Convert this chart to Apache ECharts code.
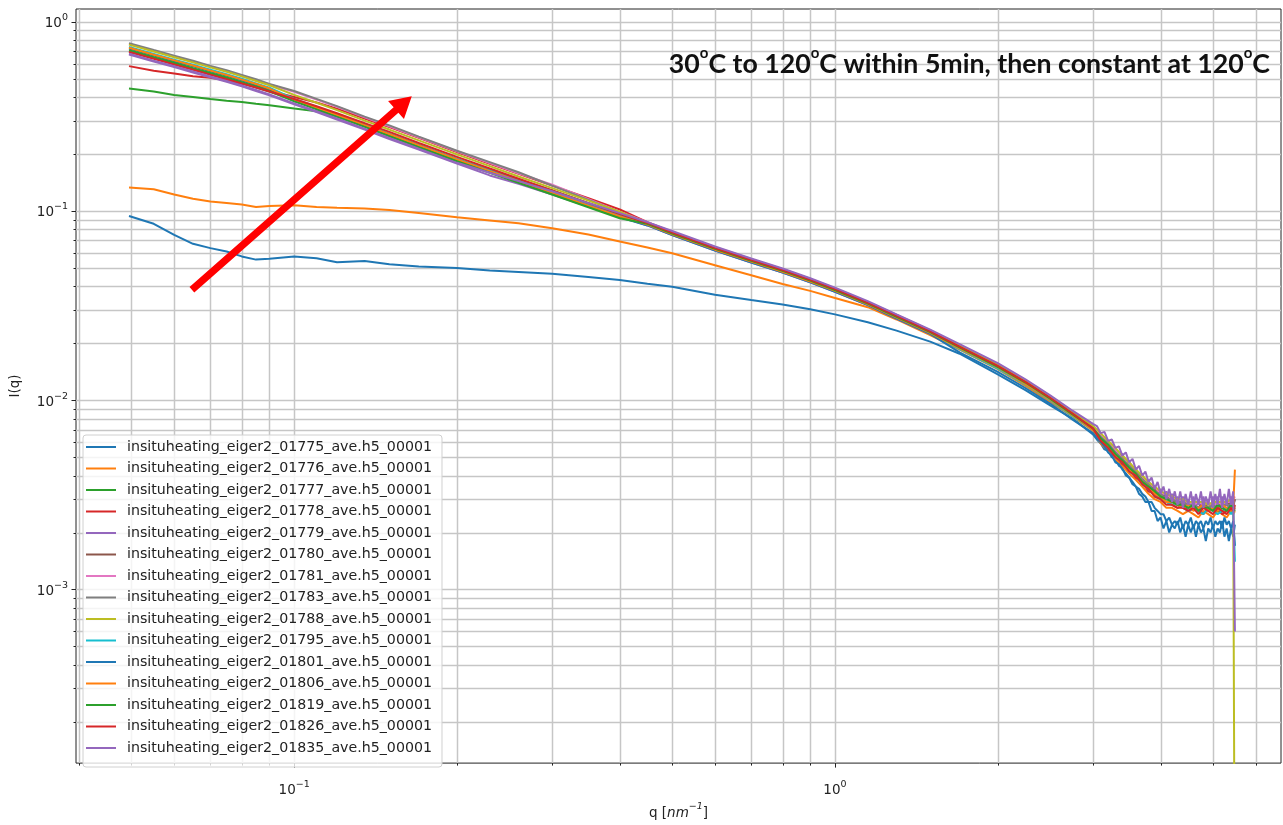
<!DOCTYPE html>
<html>
<head>
<meta charset="utf-8">
<script src="https://cdn.jsdelivr.net/npm/echarts@6/dist/echarts.min.js"></script>
<style>
html,body{margin:0;padding:0;background:#fff;}
#chart{width:1283px;height:825px;}
</style>
</head>
<body>
<div id="chart"></div>
<script>
// ---------------- data ----------------
// q grid used by most curves
const Q = [0.0495,0.055,0.06,0.065,0.07,0.075,0.08,0.085,0.09,0.1,
  0.11,0.12,0.135,0.15,0.17,0.2,0.23,0.26,0.3,0.35,
  0.4,0.45,0.5,0.6,0.7,0.8,0.9,1.0,1.15,1.3,
  1.5,1.7,2.0,2.25,2.5,2.75,3.0,3.1,3.2,3.3,
  3.4,3.5,3.6,3.7,3.8,3.9,4.0,4.1,4.2,4.3,
  4.4,4.5,4.6,4.7,4.8,4.9,5.0,5.1,5.2,5.3,
  5.4,5.45,5.49];
// denser q grid at high q for the noisiest curves
const Q_DENSE = [0.0495,0.055,0.06,0.065,0.07,0.075,0.08,0.085,0.09,0.1,
  0.11,0.12,0.135,0.15,0.17,0.2,0.23,0.26,0.3,0.35,
  0.4,0.45,0.5,0.6,0.7,0.8,0.9,1.0,1.15,1.3,
  1.5,1.7,2.0,2.25,2.5,2.75,3.0,
  3.05,3.1,3.15,3.2,3.25,3.3,3.35,3.4,3.45,3.5,
  3.55,3.6,3.65,3.7,3.75,3.8,3.85,3.9,3.95,4.0,
  4.05,4.1,4.15,4.2,4.25,4.3,4.35,4.4,4.45,4.5,
  4.55,4.6,4.65,4.7,4.75,4.8,4.85,4.9,4.95,5.0,
  5.05,5.1,5.15,5.2,5.25,5.3,5.35,5.4,5.45,
  5.49];

const S01775 = [0.094,0.0855,0.0747,0.067,0.0636,0.061,0.0575,0.0553,0.0558,0.0575,
  0.0562,0.0535,0.0543,0.0522,0.0508,0.0499,0.0485,0.0476,0.0465,0.0448,
  0.0432,0.0412,0.0398,0.0361,0.0338,0.0320,0.0302,0.0284,0.0258,0.0233,
  0.0204,0.0176,0.0137,0.0113,0.0094,0.0080,0.0066,
  0.0062,0.0059,0.0055,0.0054,0.0050,0.0049,0.0045,0.0044,0.0040,0.0039,
  0.0036,0.0035,0.0032,0.0031,0.0029,0.0029,0.0026,0.0026,0.0023,0.0024,
  0.0021,0.0023,0.0020,0.0022,0.0021,0.0023,0.0020,0.0022,0.0019,0.0022,
  0.0020,0.0022,0.0019,0.0022,0.0020,0.0021,0.0018,0.0021,0.0020,0.0022,
  0.0019,0.0021,0.0020,0.0023,0.0019,0.0021,0.0018,0.0021,0.0019,
  0.0022];
const S01776 = [0.133,0.130,0.122,0.116,0.112,0.110,0.108,0.105,0.106,0.107,
  0.105,0.104,0.103,0.101,0.0975,0.0925,0.089,0.086,0.081,0.075,
  0.069,0.064,0.0598,0.0516,0.0457,0.0411,0.0378,0.0347,0.0310,0.0267,
  0.0221,0.0185,0.0146,0.0119,0.0098,0.0082,0.0069,
  0.0059,0.0054,0.0049,0.0045,0.0041,0.0038,0.0035,0.0032,0.0030,0.0029,0.0027,0.0027,0.0026,0.0025,0.0026,0.0025,0.0024,0.0026,0.0025,0.0024,0.0026,0.0025,0.0024,0.0026,0.0025,
  0.0026];
const S01777 = [0.443,0.427,0.410,0.400,0.390,0.382,0.376,0.368,0.362,0.348,
  0.336,0.318,0.285,0.253,0.221,0.187,0.164,0.1465,0.1284,0.110,
  0.0963,0.0864,0.0768,0.0636,0.0550,0.0487,0.0432,0.0386,0.0327,0.0279,
  0.0231,0.0192,0.0152,0.0125,0.0103,0.0085,0.0072,
  0.0062,0.0057,0.0052,0.0047,0.0044,0.0040,0.0037,0.0035,0.0032,0.0031,0.0029,0.0029,0.0028,0.0028,0.0027,0.0027,0.0026,0.0028,0.0026,0.0027,0.0026,0.0027,0.0027,0.0026,0.0028,
  0.0027];
const S01778 = [0.582,0.550,0.532,0.515,0.505,0.490,0.470,0.451,0.431,0.400,
  0.374,0.347,0.308,0.277,0.243,0.2045,0.1775,0.157,0.136,0.1166,
  0.1017,0.0872,0.0775,0.0643,0.0556,0.0492,0.0437,0.0390,0.0330,0.0282,
  0.0234,0.0192,0.0152,0.0125,0.0103,0.0085,0.0071,
  0.0061,0.0055,0.0051,0.0046,0.0043,0.0039,0.0037,0.0033,0.0032,0.0030,0.0029,0.0028,0.0027,0.0028,0.0026,0.0027,0.0026,0.0025,0.0027,0.0026,0.0027,0.0025,0.0026,0.0027,0.0026,
  0.0027];
const S01779 = [0.670,0.616,0.575,0.539,0.508,0.481,0.455,0.430,0.408,
  0.366,0.333,0.304,0.269,0.240,0.211,0.178,0.154,0.139,0.122,0.1056,0.0934,
  0.0838,0.0745,0.0617,0.0534,0.0472,0.0419,0.0374,0.0318,0.0270,0.0224,
  0.0196,0.0155,0.01275,0.0105,0.0087,0.00734,
  0.0068,0.0066,0.0061,0.0061,0.0056,0.0056,0.0051,0.0052,0.0047,0.0048,
  0.0043,0.0044,0.0039,0.0041,0.0036,0.0038,0.0034,0.0035,0.0031,0.0034,
  0.0030,0.0033,0.0029,0.0032,0.0028,0.0031,0.0027,0.0031,0.0027,0.0030,
  0.0026,0.0031,0.0027,0.0030,0.0026,0.0031,0.0027,0.0030,0.0026,0.0031,
  0.0027,0.0031,0.0026,0.0031,0.0027,0.0030,0.0026,0.0031,0.0027,
  0.0030];
const S01780 = [0.698,0.642,0.599,0.563,0.530,0.501,0.474,0.449,0.426,
  0.386,0.351,0.321,0.284,0.254,0.222,0.187,0.162,0.1435,0.1245,0.1067,0.0934,
  0.0855,0.0760,0.0630,0.0545,0.0482,0.0428,0.0382,0.0324,0.0276,0.0229,
  0.0192,0.0152,0.0125,0.0103,0.0085,0.0072,
  0.0065,0.0060,0.0053,0.0050,0.0045,0.0043,0.0038,0.0036,0.0034,0.0032,0.0031,0.0029,0.0030,0.0028,0.0029,0.0028,0.0027,0.0029,0.0027,0.0028,0.0027,0.0029,0.0028,0.0029,0.0028,
  0.0030];
const S01781 = [0.763,0.702,0.655,0.615,0.579,0.548,0.518,0.491,0.465,
  0.426,0.387,0.355,0.312,0.280,0.245,0.2065,0.179,0.158,0.1374,0.1155,0.0992,
  0.0872,0.0775,0.0643,0.0556,0.0492,0.0437,0.0390,0.0330,0.0282,0.0234,
  0.0192,0.0152,0.0125,0.0103,0.0085,0.0072,
  0.0066,0.0059,0.0055,0.0049,0.0047,0.0042,0.0040,0.0036,0.0035,0.0032,0.0032,0.0030,0.0030,0.0029,0.0029,0.0028,0.0029,0.0028,0.0029,0.0027,0.0029,0.0028,0.0029,0.0029,0.0030,
  0.0031];
const S01783 = [0.770,0.708,0.661,0.621,0.584,0.553,0.523,0.496,0.469,
  0.430,0.391,0.358,0.315,0.283,0.247,0.208,0.181,0.160,0.1361,0.1144,0.0982,
  0.0864,0.0768,0.0636,0.0550,0.0487,0.0432,0.0386,0.0327,0.0279,0.0231,
  0.0192,0.0152,0.0125,0.0103,0.0085,0.0071,
  0.0064,0.0059,0.0053,0.0049,0.0045,0.0042,0.0038,0.0036,0.0033,0.0032,0.0030,0.0030,0.0029,0.0029,0.0028,0.0028,0.0027,0.0028,0.0027,0.0028,0.0027,0.0028,0.0028,0.0028,0.0029,
  0.0029];
const S01788 = [0.756,0.695,0.649,0.609,0.573,0.543,0.514,0.486,0.461,
  0.410,0.373,0.341,0.300,0.269,0.236,0.199,0.1725,0.152,0.132,0.1133,0.0992,
  0.0855,0.0760,0.0630,0.0545,0.0482,0.0428,0.0382,0.0324,0.0276,0.0229,
  0.0194,0.0154,0.0126,0.0104,0.0086,0.0073,
  0.0067,0.0061,0.0056,0.0051,0.0047,0.0043,0.0040,0.0037,0.0035,0.0033,0.0032,0.0031,0.0030,0.0030,0.0029,0.0029,0.0029,0.0029,0.0028,0.0029,0.0029,0.0029,0.0029,0.0030,0.0030,
  0.00001];
const S01795 = [0.734,0.675,0.630,0.592,0.557,0.527,0.499,0.472,0.448,
  0.390,0.355,0.324,0.287,0.256,0.224,0.189,0.164,0.145,0.1258,0.1078,0.0944,
  0.0846,0.0752,0.0624,0.0540,0.0477,0.0424,0.0378,0.0321,0.0273,0.0227,
  0.0186,0.0147,0.0121,0.0100,0.0082,0.0070,
  0.0061,0.0056,0.0050,0.0047,0.0042,0.0040,0.0036,0.0034,0.0031,0.0030,0.0029,0.0028,0.0028,0.0027,0.0026,0.0027,0.0026,0.0025,0.0027,0.0026,0.0025,0.0026,0.0027,0.0025,0.0026,
  0.0014];
const S01801 = [0.720,0.662,0.618,0.580,0.546,0.517,0.489,0.463,0.439,
  0.383,0.347,0.318,0.281,0.251,0.220,0.185,0.161,0.142,0.123,0.1056,0.0924,
  0.0838,0.0745,0.0617,0.0534,0.0472,0.0419,0.0374,0.0318,0.0270,0.0224,
  0.0179,0.0141,0.0116,0.0096,0.0079,0.0067,
  0.0063,0.0060,0.0057,0.0053,0.0051,0.0047,0.0046,0.0043,0.0041,0.0039,
  0.0037,0.0035,0.0034,0.0032,0.0031,0.0029,0.0029,0.0027,0.0026,0.0025,
  0.0025,0.0023,0.0024,0.0022,0.0023,0.0022,0.0024,0.0021,0.0023,0.0022,
  0.0024,0.0021,0.0023,0.0022,0.0023,0.0021,0.0023,0.0022,0.0024,0.0021,
  0.0023,0.0022,0.0023,0.0021,0.0024,0.0022,0.0023,0.0021,0.0023,
  0.0017];
const S01806 = [0.727,0.669,0.624,0.586,0.551,0.522,0.494,0.468,0.443,
  0.386,0.351,0.321,0.284,0.254,0.222,0.187,0.162,0.1435,0.1245,0.1067,0.0934,
  0.0846,0.0752,0.0624,0.0540,0.0477,0.0424,0.0378,0.0321,0.0273,0.0227,
  0.0188,0.0149,0.0122,0.0101,0.0083,0.0070,
  0.0062,0.0057,0.0051,0.0048,0.0043,0.0041,0.0037,0.0035,0.0032,0.0031,0.0029,0.0029,0.0028,0.0027,0.0028,0.0026,0.0027,0.0028,0.0026,0.0027,0.0026,0.0028,0.0027,0.0026,0.0028,
  0.0043];
const S01819 = [0.706,0.649,0.606,0.568,0.535,0.507,0.479,0.454,0.430,
  0.379,0.344,0.314,0.278,0.248,0.217,0.183,0.159,0.1406,0.122,0.1045,0.0915,
  0.0855,0.0760,0.0630,0.0545,0.0482,0.0428,0.0382,0.0324,0.0276,0.0229,
  0.0190,0.0150,0.0124,0.0102,0.0084,0.0071,
  0.0063,0.0058,0.0052,0.0048,0.0044,0.0041,0.0037,0.0035,0.0033,0.0031,0.0030,0.0029,0.0028,0.0028,0.0027,0.0028,0.0026,0.0027,0.0027,0.0026,0.0028,0.0027,0.0026,0.0028,0.0027,
  0.0026];
const S01826 = [0.691,0.636,0.593,0.557,0.524,0.496,0.472,0.449,0.428,
  0.390,0.357,0.328,0.291,0.2614,0.2286,0.193,0.1675,0.148,0.1284,0.110,0.0963,
  0.0864,0.0768,0.0636,0.0550,0.0487,0.0432,0.0386,0.0327,0.0279,0.0231,
  0.0192,0.0152,0.0125,0.0103,0.0085,0.0071,
  0.0061,0.0056,0.0050,0.0047,0.0042,0.0040,0.0036,0.0034,0.0031,0.0030,0.0028,0.0028,0.0027,0.0027,0.0026,0.0027,0.0025,0.0027,0.0026,0.0025,0.0027,0.0026,0.0025,0.0027,0.0026,
  0.0028];
const S01835 = [0.677,0.622,0.581,0.545,0.513,0.486,0.460,0.435,0.412,
  0.370,0.336,0.308,0.272,0.243,0.213,
  0.1795,0.159,0.1436,0.1271,0.110,0.0973,0.0872,0.0783,
  0.0649,0.0561,0.0496,0.0441,0.0393,0.0334,0.0284,0.0236,
  0.0198,0.0157,0.0129,0.0106,0.0088,0.0075,
  0.0073,0.0067,0.0068,0.0061,0.0062,0.0056,0.0057,0.0051,0.0053,0.0047,
  0.0049,0.0043,0.0045,0.0040,0.0042,0.0037,0.0039,0.0034,0.0037,0.0032,
  0.0035,0.0030,0.0034,0.0029,0.0033,0.0028,0.0033,0.0027,0.0032,0.0028,
  0.0033,0.0027,0.0032,0.0028,0.0033,0.0027,0.0031,0.0028,0.0033,0.0027,
  0.0032,0.0028,0.0034,0.0027,0.0032,0.0028,0.0034,0.0028,0.0033,
  0.0006];

const SERIES_NAMES = [
  'insituheating_eiger2_01775_ave.h5_00001','insituheating_eiger2_01776_ave.h5_00001',
  'insituheating_eiger2_01777_ave.h5_00001','insituheating_eiger2_01778_ave.h5_00001',
  'insituheating_eiger2_01779_ave.h5_00001','insituheating_eiger2_01780_ave.h5_00001',
  'insituheating_eiger2_01781_ave.h5_00001','insituheating_eiger2_01783_ave.h5_00001',
  'insituheating_eiger2_01788_ave.h5_00001','insituheating_eiger2_01795_ave.h5_00001',
  'insituheating_eiger2_01801_ave.h5_00001','insituheating_eiger2_01806_ave.h5_00001',
  'insituheating_eiger2_01819_ave.h5_00001','insituheating_eiger2_01826_ave.h5_00001',
  'insituheating_eiger2_01835_ave.h5_00001'];
const SERIES_VALUES = [S01775,S01776,S01777,S01778,S01779,S01780,S01781,S01783,S01788,S01795,S01801,S01806,S01819,S01826,S01835];

// axes
const X_MIN = 0.0395, X_MAX = 6.68;
const Y_MIN = 1.21e-4, Y_MAX = 1.166;
const X_MAJOR = [0.1, 1];
const X_MINOR = [0.04,0.05,0.06,0.07,0.08,0.09,0.2,0.3,0.4,0.5,0.6,0.7,0.8,0.9,2,3,4,5,6];
const Y_MAJOR = [0.001, 0.01, 0.1, 1];
const Y_MINOR = [0.0002,0.0003,0.0004,0.0005,0.0006,0.0007,0.0008,0.0009,
  0.002,0.003,0.004,0.005,0.006,0.007,0.008,0.009,
  0.02,0.03,0.04,0.05,0.06,0.07,0.08,0.09,
  0.2,0.3,0.4,0.5,0.6,0.7,0.8,0.9];

// annotation arrow (data coordinates: start q, start I, tip q, tip I)
const ARROW = [0.0647, 0.0383, 0.165, 0.404];
const TITLE_TEXT = '{a|30}{o|o}{a|C to 120}{o|o}{a|C within 5min, then constant at 120}{o|o}{a|C}';

// ---------------- chart ----------------
const COLORS = ['#1f77b4','#ff7f0e','#2ca02c','#d62728','#9467bd','#8c564b','#e377c2','#7f7f7f','#bcbd22','#17becf',
  '#1f77b4','#ff7f0e','#2ca02c','#d62728','#9467bd'];
const FONT = 'DejaVu Sans';
const SUP = {'-':'−'};

function decadeLabel(v) {
  const l = Math.log10(v), r = Math.round(l);
  if (Math.abs(l - r) > 1e-6) return '';
  return '{b|10}{s|' + String(r).split('').map(c => SUP[c] || c).join('') + '}';
}
const labelRich = {
  b: {fontFamily: FONT, fontSize: 13.5, color: '#222', lineHeight: 18, verticalAlign: 'bottom'},
  s: {fontFamily: FONT, fontSize: 9.5, color: '#222', lineHeight: 10, verticalAlign: 'top'}
};

const chart = echarts.init(document.getElementById('chart'), null, {renderer: 'canvas', width: 1283, height: 825});

const gridColor = '#c6c6c6';
function renderXGrid(params, api) {
  const cs = params.coordSys;
  const p = api.coord([api.value(0), api.value(1)]);
  const x = Math.round(p[0]) + 0.5;
  const major = api.value(2) === 1;
  const b = cs.y + cs.height;
  return {type: 'group', children: [
    {type: 'line', shape: {x1: x, y1: cs.y, x2: x, y2: b}, style: {stroke: gridColor, lineWidth: 1.5}},
    {type: 'line', shape: {x1: x, y1: b, x2: x, y2: b + (major ? 4.5 : 2.5)}, style: {stroke: '#222', lineWidth: 1}}
  ]};
}
function renderYGrid(params, api) {
  const cs = params.coordSys;
  const p = api.coord([api.value(0), api.value(1)]);
  const y = Math.round(p[1]) + 0.5;
  const major = api.value(2) === 1;
  return {type: 'group', children: [
    {type: 'line', shape: {x1: cs.x, y1: y, x2: cs.x + cs.width, y2: y}, style: {stroke: gridColor, lineWidth: 1.5}},
    {type: 'line', shape: {x1: cs.x, y1: y, x2: cs.x - (major ? 4.5 : 2.5), y2: y}, style: {stroke: '#222', lineWidth: 1}}
  ]};
}
function renderArrow(params, api) {
  const a = api.coord([api.value(0), api.value(1)]);
  const t = api.coord([api.value(2), api.value(3)]);
  const dx = t[0] - a[0], dy = t[1] - a[1];
  const len = Math.sqrt(dx*dx + dy*dy);
  const ux = dx/len, uy = dy/len, nx = -uy, ny = ux;
  const headLen = 21, headW = 12, shaftW = 3.6;
  const bx = t[0] - ux*headLen, by = t[1] - uy*headLen;
  return {type: 'polygon', shape: {points: [
    [a[0] + nx*shaftW, a[1] + ny*shaftW],
    [bx + nx*shaftW, by + ny*shaftW],
    [bx + nx*headW, by + ny*headW],
    [t[0], t[1]],
    [bx - nx*headW, by - ny*headW],
    [bx - nx*shaftW, by - ny*shaftW],
    [a[0] - nx*shaftW, a[1] - ny*shaftW]
  ]}, style: {fill: '#ff0000'}};
}

const series = [];
series.push({type: 'custom', name: '_xgrid', silent: true, z: 1, clip: false, renderItem: renderXGrid,
  encode: {x: 0, y: 1},
  data: X_MAJOR.map(v => [v, 0.01, 1]).concat(X_MINOR.map(v => [v, 0.01, 0]))});
series.push({type: 'custom', name: '_ygrid', silent: true, z: 1, clip: false, renderItem: renderYGrid,
  encode: {x: 0, y: 1},
  data: Y_MAJOR.map(v => [0.1, v, 1]).concat(Y_MINOR.map(v => [0.1, v, 0]))});
SERIES_VALUES.forEach((vals, i) => {
  const qs = vals.length === Q_DENSE.length ? Q_DENSE : Q;
  series.push({
    type: 'line', name: SERIES_NAMES[i], z: 2,
    data: qs.map((q, k) => [q, vals[k]]),
    showSymbol: false, symbol: 'none', smooth: false, clip: true,
    lineStyle: {width: 2, color: COLORS[i]},
    itemStyle: {color: COLORS[i]},
    emphasis: {disabled: true}, silent: true, animation: false
  });
});
series.push({type: 'custom', name: '_arrow', silent: true, z: 5, clip: false, renderItem: renderArrow,
  encode: {x: [0, 2], y: [1, 3]}, data: [ARROW]});

chart.setOption({
  animation: false,
  backgroundColor: '#fff',
  grid: {left: 76, right: 2, top: 9, bottom: 57, show: true, borderColor: '#222', borderWidth: 1, backgroundColor: 'transparent'},
  xAxis: {
    type: 'log', logBase: 10, min: X_MIN, max: X_MAX,
    axisLine: {show: false}, axisTick: {show: false}, splitLine: {show: false}, minorTick: {show: false},
    axisLabel: {formatter: decadeLabel, rich: labelRich, margin: 16, showMinLabel: false, showMaxLabel: false},
    name: '{a|q [}{i|nm}{s|−1}{a|]}', nameLocation: 'middle', nameGap: 38,
    nameTextStyle: {rich: {
      a: {fontFamily: FONT, fontSize: 13.5, color: '#222', lineHeight: 18, verticalAlign: 'bottom'},
      i: {fontFamily: FONT, fontSize: 13.5, fontStyle: 'italic', color: '#222', lineHeight: 18, verticalAlign: 'bottom'},
      s: {fontFamily: FONT, fontSize: 9.5, fontStyle: 'italic', color: '#222', lineHeight: 10, verticalAlign: 'top'}
    }}
  },
  yAxis: {
    type: 'log', logBase: 10, min: Y_MIN, max: Y_MAX,
    axisLine: {show: false}, axisTick: {show: false}, splitLine: {show: false}, minorTick: {show: false},
    axisLabel: {formatter: decadeLabel, rich: labelRich, margin: 8, showMinLabel: false, showMaxLabel: false},
    name: 'I(q)', nameLocation: 'middle', nameGap: 54, nameRotate: 90,
    nameTextStyle: {fontFamily: FONT, fontSize: 13.5, color: '#222'}
  },
  legend: {
    orient: 'vertical', left: 83, top: 435, selectedMode: false,
    data: SERIES_NAMES,
    icon: 'rect', itemWidth: 30, itemHeight: 2, itemGap: 7.5,
    textStyle: {fontFamily: FONT, fontSize: 14.2, color: '#222', lineHeight: 14, padding: [0, 0, 0, 6]},
    backgroundColor: 'rgba(255,255,255,0.8)', borderColor: '#d0d0d0', borderWidth: 1, borderRadius: 3,
    padding: [5, 10, 12, 3]
  },
  graphic: [{
    type: 'text', right: 13, top: 46, z: 10,
    style: {
      text: TITLE_TEXT,
      rich: {
        a: {fontFamily: 'Lato', fontWeight: 'bold', fontSize: 26.7, fill: '#111', lineHeight: 32, verticalAlign: 'bottom'},
        o: {fontFamily: 'Lato', fontWeight: 'bold', fontSize: 15, fill: '#111', lineHeight: 15, verticalAlign: 'top'}
      }
    }
  }],
  series: series
});
</script>
</body>
</html>
